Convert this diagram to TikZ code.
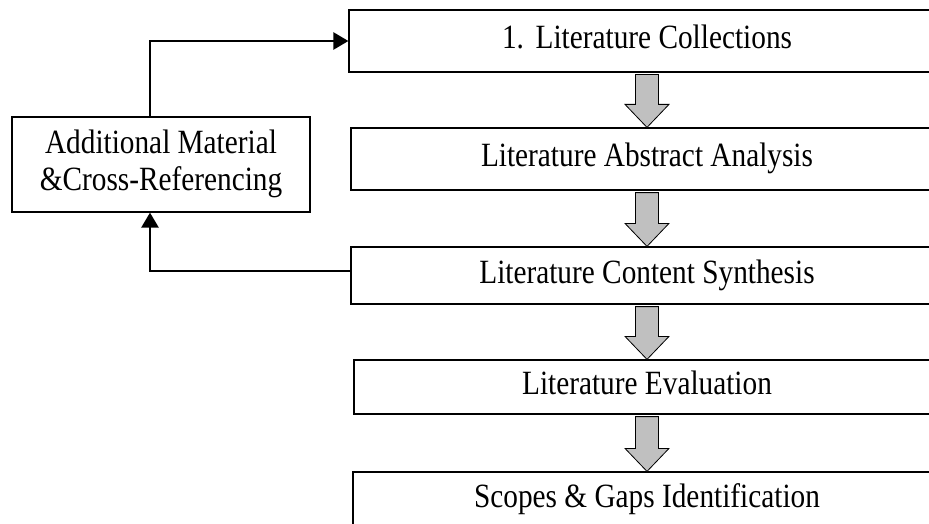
\documentclass[tikz,border=0pt]{standalone}
\usepackage{fontspec}
\setmainfont{Liberation Serif}
\usetikzlibrary{arrows.meta, calc, positioning}

\definecolor{arrowgray}{RGB}{192,192,192}

% text is a little taller than wide in the picture
\newcommand{\tall}[1]{\scalebox{1}[1.16]{\begin{tabular}{@{}c@{}}#1\end{tabular}}}

\tikzset{
	stage/.style 2 args={draw, line width=1.2pt, minimum width=#1, minimum height=#2, inner sep=0pt, align=center, font=\fontsize{29.3}{32.5}\selectfont},
	link/.style={line width=2.5pt, -{Triangle[length=15pt, width=17pt]}},
	blockarrow/.style={draw, line width=.8pt, fill=arrowgray, line join=miter}
}

% gray block arrow between two stages
\newcommand{\stagearrow}[2]{%
	\draw[blockarrow] ($(#1.south)+(-11.5,2)$) -- ($(#2.north)+(-11.5,-23)$) -- ($(#2.north)+(-22,-23)$) -- (#2.north)
		-- ($(#2.north)+(22,-23)$) -- ($(#2.north)+(11.5,-23)$) -- ($(#1.south)+(11.5,2)$) -- cycle;}

\begin{document}
\begin{tikzpicture}[x=1pt, y=-1pt]
		\useasboundingbox (0,0) rectangle (929,524);
		\clip (0,0) rectangle (929,524);

		\node[stage={596pt}{62pt}] (lit) at (647,41) {\tall{1.\hspace{0.4em}Literature Collections}};
		\node[stage={592pt}{62pt}] (abs) at (647,159) {\tall{Literature Abstract Analysis}};
		\node[stage={592pt}{57pt}] (syn) at (647,275.5) {\tall{Literature Content Synthesis}};
		\node[stage={586pt}{54pt}] (eva) at (647,387) {\tall{Literature Evaluation}};
		\node[stage={588pt}{56pt}] (gap) at (647,500) {\tall{Scopes \& Gaps Identification}};

		\node[stage={298pt}{95pt}] (add) at (161,164.5) {\tall{Additional Material\\\&Cross-Referencing}};

		\stagearrow{lit}{abs}
		\stagearrow{abs}{syn}
		\stagearrow{syn}{eva}
		\stagearrow{eva}{gap}

		\draw[link] ([xshift=-11pt]add.north) |- (lit.west);
		\draw[link] ([yshift=4.5pt]syn.west) -| ([xshift=-11pt]add.south);
	\end{tikzpicture}
\end{document}
